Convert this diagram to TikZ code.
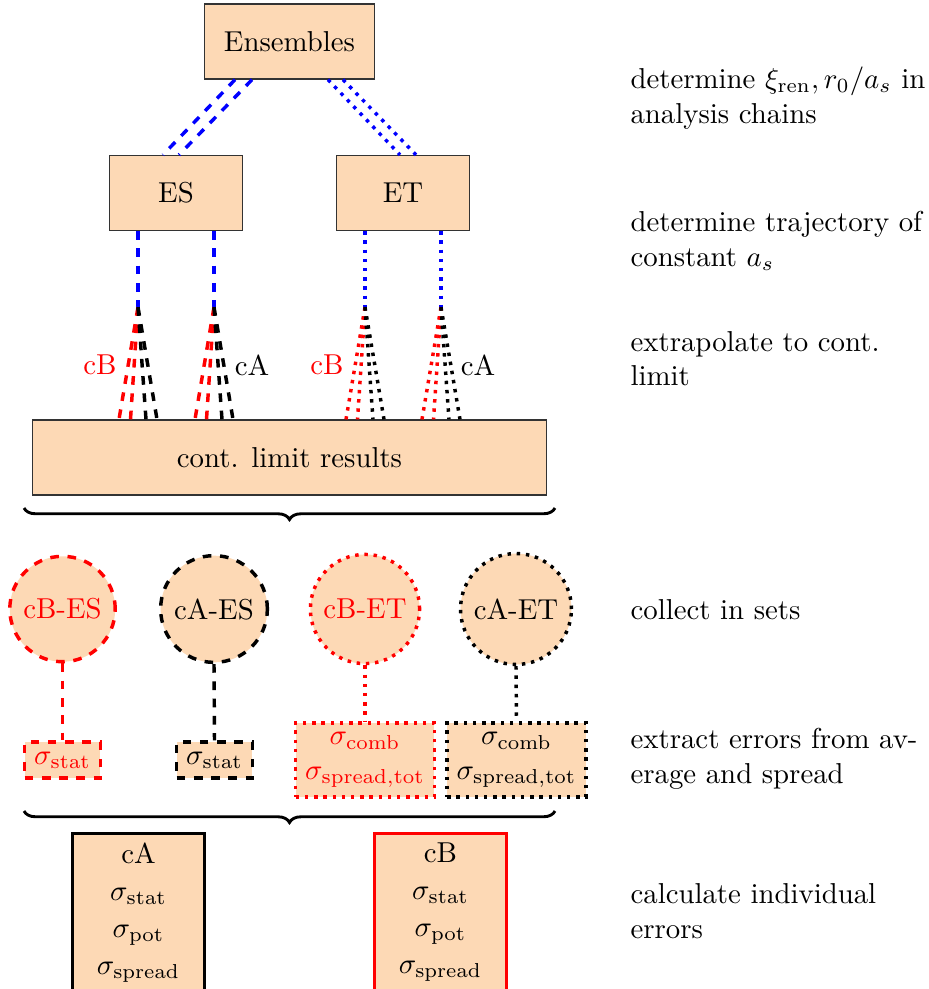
\documentclass[tikz,border=0pt]{standalone}
\usetikzlibrary{calc,decorations.pathreplacing}
\definecolor{peach}{RGB}{253,217,181}
\begin{document}
\begin{tikzpicture}[x=0.3472pt,y=-0.3472pt,
  box/.style={rectangle, draw=black!80, fill=peach, line width=0.5pt, minimum height=26pt},
  setc/.style={circle, fill=peach, line width=1.2pt},
  sbox/.style={rectangle, fill=peach, line width=1.2pt, align=center},
  bigbox/.style={rectangle, fill=peach, line width=1pt, minimum width=45.9pt, align=center, anchor=north},
  vt/.style={line width=1.2pt},
  note/.style={anchor=west, align=left, inner sep=0pt},
  brc/.style={decorate, decoration={brace,mirror,amplitude=4pt}, line width=1pt}
]
\useasboundingbox (0,0) rectangle (929,989);

% top boxes
\node[box, minimum width=59pt] (ens) at (289.5,41.5) {Ensembles};
\node[box, minimum width=46pt] (es) at (176,193) {ES};
\node[box, minimum width=46pt] (et) at (403,193) {ET};
\node[box, minimum width=178.4pt] (cont) at (289.5,457.5) {cont. limit results};

% ensembles -> ES / ET
\draw[vt, blue, dashed] ($(ens.south)+(-54.5,0)$) -- ($(es.north)+(-13,0)$);
\draw[vt, blue, dashed] ($(ens.south)+(-37.5,0)$) -- ($(es.north)+(3,0)$);
\draw[vt, blue, dotted] ($(ens.south)+(38.5,0)$) -- ($(et.north)+(-3,0)$);
\draw[vt, blue, dotted] ($(ens.south)+(53.5,0)$) -- ($(et.north)+(13,0)$);

% apex points
\coordinate (p1) at ($(es.south)+(-38,76)$);
\coordinate (p2) at ($(es.south)+(38,76)$);
\coordinate (p3) at ($(et.south)+(-38,76)$);
\coordinate (p4) at ($(et.south)+(38,76)$);

\draw[vt, blue, dashed] (p1 |- es.south) -- (p1);
\draw[vt, blue, dashed] (p2 |- es.south) -- (p2);
\draw[vt, blue, dotted] (p3 |- et.south) -- (p3);
\draw[vt, blue, dotted] (p4 |- et.south) -- (p4);

% fans
\foreach \p in {p1,p2} {
  \draw[vt, red, dashed] (\p) -- ($(\p |- cont.north)+(-19,0)$);
  \draw[vt, red, dashed] (\p) -- ($(\p |- cont.north)+(-7.5,0)$);
  \draw[vt, black, dashed] (\p) -- ($(\p |- cont.north)+(8,0)$);
  \draw[vt, black, dashed] (\p) -- ($(\p |- cont.north)+(19,0)$);
}
\foreach \p in {p3,p4} {
  \draw[vt, red, dotted] (\p) -- ($(\p |- cont.north)+(-19,0)$);
  \draw[vt, red, dotted] (\p) -- ($(\p |- cont.north)+(-7.5,0)$);
  \draw[vt, black, dotted] (\p) -- ($(\p |- cont.north)+(8,0)$);
  \draw[vt, black, dotted] (\p) -- ($(\p |- cont.north)+(19,0)$);
}

\node[text=red] (lb1) at (100,365) {cB};
\node (la1) at (252,365) {cA};
\node[text=red] (lb2) at (327,365) {cB};
\node (la2) at (478,365) {cA};

% brace 1
\draw[brc] (24,508) -- (555,508);

% sets
\node[setc, draw=red, dashed, text=red] (c1) at (62.5,609) {cB-ES};
\node[setc, draw=black, dashed] (c2) at (214,609) {cA-ES};
\node[setc, draw=red, dotted, text=red] (c3) at (365,609) {cB-ET};
\node[setc, draw=black, dotted] (c4) at (516,609) {cA-ET};

\node[sbox, draw=red, dashed, text=red] (s1) at (62.5,760) {$\sigma_{\mathrm{stat}}$};
\node[sbox, draw=black, dashed] (s2) at (214.5,760) {$\sigma_{\mathrm{stat}}$};
\node[sbox, draw=red, dotted, text=red] (s3) at (365,760) {$\sigma_{\mathrm{comb}}$\\$\sigma_{\mathrm{spread,tot}}$};
\node[sbox, draw=black, dotted] (s4) at (516.5,760) {$\sigma_{\mathrm{comb}}$\\$\sigma_{\mathrm{spread,tot}}$};

\draw[vt, red, dashed] (c1.south) -- (s1.north);
\draw[vt, black, dashed] (c2.south) -- (s2.north);
\draw[vt, red, dotted] (c3.south) -- (s3.north);
\draw[vt, black, dotted] (c4.south) -- (s4.north);

% brace 2
\draw[brc] (24,811) -- (555,811);

% final boxes
\node[bigbox, draw=black] (ra) at (138.5,832) {cA\\[0.8pt]$\sigma_{\mathrm{stat}}$\\[0.8pt]$\sigma_{\mathrm{pot}}$\\[0.8pt]$\sigma_{\mathrm{spread}}$};
\node[bigbox, draw=red] (rb) at (440.5,832) {cB\\[0.8pt]$\sigma_{\mathrm{stat}}$\\[0.8pt]$\sigma_{\mathrm{pot}}$\\[0.8pt]$\sigma_{\mathrm{spread}}$};

% notes
\node[note] (n1) at (630,98) {determine $\xi_{\mathrm{ren}}, r_0/a_s$ in\\analysis chains};
\node[note] (n2) at (630,241) {determine trajectory of\\constant $a_s$};
\node[note] (n3) at (630,358.5) {extrapolate to cont.\\limit};
\node[note] (n4) at (630,609.3) {collect in sets};
\node[note] (n5) at (630,758.6) {extract errors from av-\\erage and spread};
\node[note] (n6) at (630,911.2) {calculate individual\\errors};
\end{tikzpicture}
\end{document}
